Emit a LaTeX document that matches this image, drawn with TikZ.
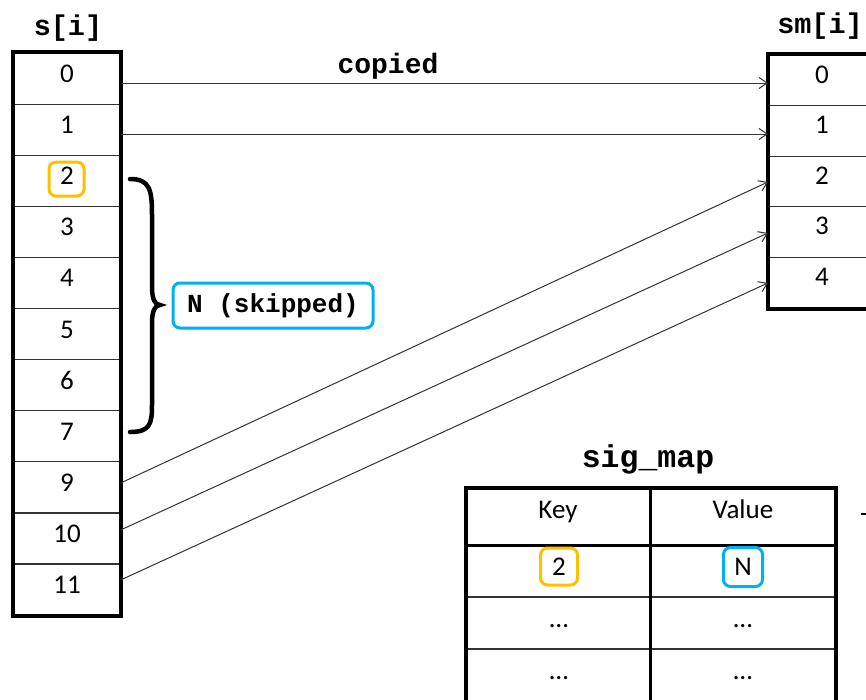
\documentclass[tikz,border=0pt]{standalone}
\usepackage{fontspec}
\setmainfont{Carlito}
\newfontfamily\cour{Liberation Mono}
\usetikzlibrary{arrows.meta}
\definecolor{korange}{HTML}{FFC000}
\definecolor{kblue}{HTML}{00B0F0}
\tikzset{
  cellbox/.style={draw=black!80, line width=1.2pt, minimum width=106pt, minimum height=51.1pt, inner sep=0pt},
  mcell/.style={draw=black!80, line width=1.2pt, minimum width=106pt, minimum height=50.6pt, inner sep=0pt},
  tcell/.style={draw=black!80, line width=1.2pt, inner sep=0pt},
  txt/.style={font=\fontsize{27}{30}\selectfont, inner sep=0pt, anchor=base},
  ttl/.style={font=\cour\bfseries\fontsize{28.5}{30}\selectfont, inner sep=0pt, anchor=base},
  heavy/.style={line width=4pt, draw=black},
  hl/.style={rounded corners=7pt, line width=3pt, inner sep=0pt},
  arr/.style={-{Straight Barb[length=8pt,width=11pt]}, line width=1pt, draw=black!80},
}
\begin{document}
\begin{tikzpicture}[x=1pt,y=-1pt]
\useasboundingbox (0,0) rectangle (866,699);
% ---- s[i] column
\foreach \k/\t in {0/0,1/1,2/,3/3,4/4,5/5,6/6,7/7,8/9,9/10,10/11}{
  \node[cellbox] (s\k) at (67,{53+51.1*(\k+0.5)}) {};
  \node[txt] (ts\k) at (67,{82.5+51.1*\k}) {\t};
}
\node[hl, draw=korange, minimum width=35pt, minimum height=34pt] (k2box) at (66.5,179) {};
\node[txt] (ts2) at (67,184.7) {2};
\draw[heavy] (s0.north west) rectangle (s10.south east);
\node[ttl] (stitle) at (68,35) {s[i]};
% ---- sm[i] column
\foreach \k in {0,...,4}{
  \node[mcell] (m\k) at (821.5,{55+50.6*(\k+0.5)}) {};
  \node[txt] (tm\k) at (822,{83+50.6*\k}) {\k};
}
\draw[heavy] (m0.north west) rectangle (m4.south east);
\node[ttl] (mtitle) at (820,33) {sm[i]};
% ---- arrows
\draw[arr] (s0.east |- 0,83) -- (m0.west |- 0,83);
\draw[arr] (s1.east |- 0,134) -- (m1.west |- 0,134);
\draw[arr] (s8.east |- 0,483) -- (m2.west |- 0,182);
\draw[arr] (s9.east |- 0,530) -- (m3.west |- 0,233);
\draw[arr] (s10.east |- 0,580) -- (m4.west |- 0,283);
\node[ttl, font=\cour\bfseries\fontsize{28}{30}\selectfont] (copied) at (388,73) {copied};
% ---- brace
\draw[line width=4.5pt, line cap=round] (130,179) .. controls (150,179) and (152,190) .. (152,215)
  -- (152,287) .. controls (152,299) and (155,305) .. (160,305)
  .. controls (155,305) and (152,311) .. (152,323)
  -- (152,405) .. controls (152,424) and (150,432) .. (130,432);
\node[hl, draw=kblue, minimum width=200pt, minimum height=45pt,
  font=\cour\bfseries\fontsize{26}{28}\selectfont] (skip) at (273,305.5) {N (skipped)};
% ---- sig_map table
\node[ttl, font=\cour\bfseries\fontsize{31.5}{33}\selectfont] (sigtitle) at (648,467) {sig\_map};
\node[tcell, minimum width=183pt, minimum height=56pt] (hk) at (558.5,517) {};
\node[tcell, minimum width=185pt, minimum height=56pt] (hv) at (742.5,517) {};
\node[tcell, minimum width=183pt, minimum height=52pt] (r1k) at (558.5,571) {};
\node[tcell, minimum width=185pt, minimum height=52pt] (r1v) at (742.5,571) {};
\node[tcell, minimum width=183pt, minimum height=52pt] (r2k) at (558.5,623) {};
\node[tcell, minimum width=185pt, minimum height=52pt] (r2v) at (742.5,623) {};
\node[tcell, minimum width=183pt, minimum height=54pt] (r3k) at (558.5,676) {};
\node[tcell, minimum width=185pt, minimum height=54pt] (r3v) at (742.5,676) {};
\draw[heavy] (hk.north west) rectangle (r3v.south east);
\draw[line width=3pt] (hk.south west) -- (hv.south east);
\draw[line width=3pt] (hk.north east) -- (r3k.south east);
\node[txt] (tkey) at (558,518) {Key};
\node[txt] (tval) at (743,518) {Value};
\node[hl, draw=korange, minimum width=37pt, minimum height=37pt] (k2tab) at (559,566.5) {};
\node[txt] (tk2) at (559,575) {2};
\node[hl, draw=kblue, minimum width=39pt, minimum height=39pt] (ntab) at (743,567) {};
\node[txt] (tvn) at (743,575) {N};
\node[txt] (d1) at (559,627) {…};
\node[txt] (d2) at (743,627) {…};
\node[txt] (d3) at (559,679) {…};
\node[txt] (d4) at (743,679) {…};
\draw[line width=2pt] (861,514) -- (867,514);
\end{tikzpicture}
\end{document}
